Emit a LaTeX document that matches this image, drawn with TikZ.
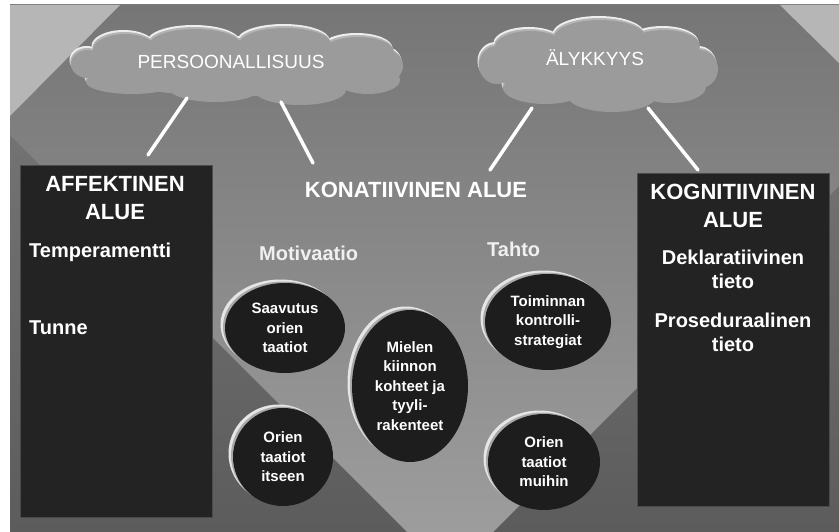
\documentclass[tikz,border=0pt]{standalone}
\usepackage{fontspec}
\setmainfont{Liberation Sans}
\usetikzlibrary{shapes.geometric}

\definecolor{bgtop}{HTML}{7A7A7A}
\definecolor{bgbot}{HTML}{5C5C5C}
\definecolor{bandtop}{HTML}{767676}
\definecolor{bandbot}{HTML}{A0A0A0}
\definecolor{corner}{HTML}{B6B6B6}
\definecolor{cloudgray}{HTML}{9B9B9B}
\definecolor{cloudrim}{HTML}{EEEEEE}
\definecolor{cloudmid}{HTML}{B4B4B4}
\definecolor{boxfill}{HTML}{232323}
\definecolor{boxline}{HTML}{4B4B4B}
\definecolor{bubblefill}{HTML}{1D1D1D}
\definecolor{rimlight}{HTML}{E6E6E6}
\definecolor{rimmid}{HTML}{A8A8A8}

\tikzset{
  cloudtext/.style={text=white, font=\fontsize{19}{22}\selectfont, inner sep=0pt},
  areabox/.style={draw=boxline, line width=1pt, fill=boxfill, anchor=north west, inner sep=0pt},
  areatitle/.style={text=white, font=\bfseries\fontsize{22}{28}\selectfont, align=center, inner sep=0pt},
  areaitem/.style={text=white, font=\bfseries\fontsize{20}{24}\selectfont, align=center, inner sep=0pt},
  sublabel/.style={text=white!94!black, font=\bfseries\fontsize{20}{24}\selectfont, inner sep=0pt},
  bubble/.style={ellipse, fill=bubblefill, inner sep=0pt, text=white, align=center,
                 font=\bfseries\fontsize{15}{19.5}\selectfont},
  link/.style={white, line width=3.5pt, line cap=round}
}

% cloud outlines built from overlapping ellipses; #1,#2 = shift, #3 = colour
\newcommand\perscloud[3]{%
  \begin{scope}[shift={(#1,#2)}]
    \fill[#3] (237,68) ellipse [x radius=150, y radius=28]
      (125,50) ellipse [x radius=32, y radius=16]
      (195,45) ellipse [x radius=46, y radius=16]
      (285,44) ellipse [x radius=46, y radius=16]
      (358,52) ellipse [x radius=36, y radius=15]
      (132,82) ellipse [x radius=46, y radius=12]
      (215,88) ellipse [x radius=46, y radius=14]
      (300,90) ellipse [x radius=46, y radius=15]
      (368,80) ellipse [x radius=32, y radius=14]
      (88,64) ellipse [x radius=17, y radius=14]
      (388,66) ellipse [x radius=15, y radius=15];
  \end{scope}}
\newcommand\alycloud[3]{%
  \begin{scope}[shift={(#1,#2)}]
    \fill[#3] (598,66) ellipse [x radius=108, y radius=33]
      (530,47) ellipse [x radius=35, y radius=16]
      (600,38) ellipse [x radius=46, y radius=18]
      (664,46) ellipse [x radius=36, y radius=16]
      (545,88) ellipse [x radius=42, y radius=16]
      (612,95) ellipse [x radius=45, y radius=17]
      (670,87) ellipse [x radius=36, y radius=16]
      (497,65) ellipse [x radius=18, y radius=19]
      (700,69) ellipse [x radius=18, y radius=19];
  \end{scope}}

% dark bubble with a bevelled rim on its upper left side
\newcommand\bubbleat[6]{%
  \fill[rimlight] ({#2-4.5},{#3-3.5}) ellipse [x radius=#4, y radius=#5];
  \fill[rimmid] ({#2-2},{#3-1.5}) ellipse [x radius=#4, y radius=#5];
  \node[bubble, minimum width=2*#4, minimum height=2*#5] (#1) at (#2,#3) {#6};
}

\begin{document}
\begin{tikzpicture}[x=1pt,y=-1pt]
\useasboundingbox (0,0) rectangle (839,532);
\fill[white] (0,0) rectangle (839,532);

% background panels
\shade[top color=bgtop, bottom color=bgbot] (10,5) rectangle (839,532);
\begin{scope}
  \clip (10,5) rectangle (839,532);
  \shade[top color=bandtop, bottom color=bandbot]
    (10,5) -- (10,135) -- (450,575) -- (839,186) -- (839,5) -- cycle;
  \fill[corner] (10,5) -- (120,5) -- (10,116) -- cycle;
  \fill[corner] (780,5) -- (839,5) -- (839,63) -- cycle;
\end{scope}

% clouds: light rim, mid layer, body
\perscloud{-1.5}{-4}{cloudrim}
\perscloud{-0.75}{-2}{cloudmid}
\perscloud{0}{0}{cloudgray}
\node[cloudtext, anchor=base] (pers) at (231,69) {PERSOONALLISUUS};
\alycloud{-1.5}{-4}{cloudrim}
\alycloud{-0.75}{-2}{cloudmid}
\alycloud{0}{0}{cloudgray}
\node[cloudtext, anchor=base] (aly) at (595,66) {ÄLYKKYYS};

% affective area
\node[areabox, minimum width=192, minimum height=352] (aff) at (20,165) {};
\node[areatitle] (aff-title) at (115,198) {AFFEKTINEN\\ALUE};
\node[areaitem, anchor=base west] (temp) at (29,258) {Temperamentti};
\node[areaitem, anchor=base west] (tunne) at (29,334) {Tunne};

% cognitive area
\node[areabox, minimum width=192, minimum height=333] (kog) at (637,173) {};
\node[areatitle] (kog-title) at (733,206) {KOGNITIIVINEN\\ALUE};
\node[areaitem] (dekl) at (733,269) {Deklaratiivinen\\tieto};
\node[areaitem] (prose) at (733,332) {Proseduraalinen\\tieto};

% conative area
\node[areatitle, anchor=base] (kon) at (416,198) {KONATIIVINEN ALUE};
\node[sublabel, anchor=base west] (motiv) at (259,261) {Motivaatio};
\node[sublabel, anchor=base west] (tahto) at (487,257) {Tahto};

\bubbleat{saav}{285}{328}{60}{45}{Saavutus\\orien\\taatiot}
\bubbleat{itse}{283}{457}{50}{49}{Orien\\taatiot\\itseen}
\bubbleat{miel}{410}{386}{58}{76}{Mielen\\kiinnon\\kohteet ja\\tyyli-\\rakenteet}
\bubbleat{toim}{548}{322}{63}{48}{Toiminnan\\kontrolli-\\strategiat}
\bubbleat{muih}{544}{462}{56}{48}{Orien\\taatiot\\muihin}

% connectors between clouds and areas
\coordinate (pa) at (187,98);
\coordinate (pb) at (148,155);
\coordinate (pc) at (281,102);
\coordinate (pd) at (313,163);
\coordinate (aa) at (532,108);
\coordinate (ab) at (490,170);
\coordinate (ac) at (648,108);
\coordinate (ad) at (698,170);
\draw[link] (pa) -- (pb);
\draw[link] (pc) -- (pd);
\draw[link] (aa) -- (ab);
\draw[link] (ac) -- (ad);
\end{tikzpicture}
\end{document}
